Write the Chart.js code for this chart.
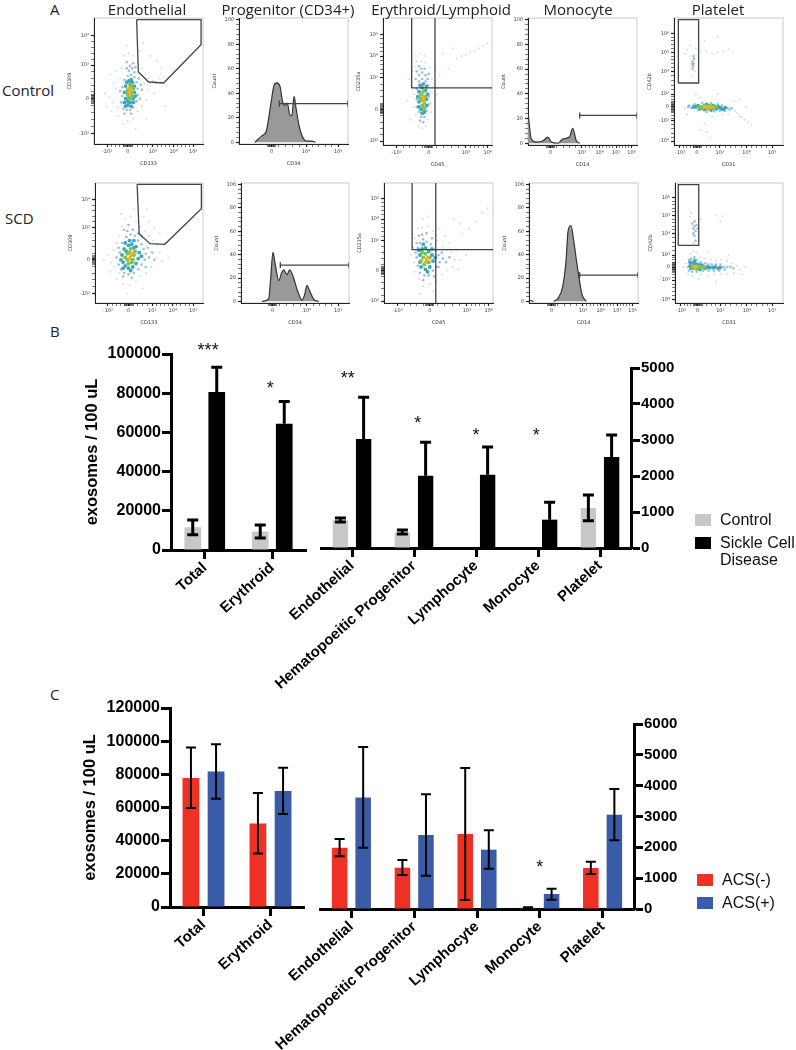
<!DOCTYPE html>
<html>
<head>
<meta charset="utf-8">
<title>Exosomes by cell origin</title>
<script src="https://cdn.jsdelivr.net/npm/chart.js@4/dist/chart.umd.js"></script>
<style>
    html, body { margin: 0; background: #fff; }
    #page { position: relative; width: 796px; height: 1050px; overflow: hidden; }
    #page canvas { position: absolute; }
    #page canvas.flow { filter: blur(0.5px); }
    .note { position: absolute; font-family: "Open Sans", sans-serif; font-size: 15px; color: #222; white-space: nowrap; line-height: 18px; }
    .note.mid { transform: translateX(-50%); }
    .key { position: absolute; font-family: "Liberation Sans", Arial, sans-serif; font-size: 16px; color: #111; line-height: 17px; white-space: nowrap; }
    .swatch { position: absolute; width: 16px; height: 12px; }
</style>
</head>
<body>
<div id="page"></div>
<script>
// panel B
const leftCats = ['Total', 'Erythroid'];
const rightCats = ['Endothelial', 'Hematopoeitic Progenitor', 'Lymphocyte', 'Monocyte', 'Platelet'];

const ctrlLeft = [11600, 9400];
const ctrlLeftLow = [7800, 6100];
const ctrlLeftHigh = [15300, 12800];
const scdLeft = [80600, 64400];
const scdLeftHigh = [93200, 75800];
const ctrlRight = [770, 435, 0, 0, 1111];
const ctrlRightLow = [722, 389, null, null, 760];
const ctrlRightHigh = [833, 500, null, null, 1472];
const scdRight = [3028, 2009, 2037, 787, 2528];
const scdRightHigh = [4185, 2935, 2806, 1268, 3139];
const starsBLeft = ['***', '*'];
const starsBLeftCat = [0.05, 0.97];
const starsBLeftAt = [101700, 81900];
const starsBRight = ['**', '*', '*', '*'];
const starsBRightCat = [-0.07, 1.06, 2, 2.97];
const starsBRightAt = [4680, 3430, 3100, 3100];

// panel C
const acsNegLeft = [77850, 50400];
const acsNegLeftLow = [59700, 32300];
const acsNegLeftHigh = [96200, 68800];
const acsPosLeft = [81700, 70000];
const acsPosLeftLow = [65300, 56100];
const acsPosLeftHigh = [98200, 83900];
const acsNegRight = [1990, 1340, 2432, 40, 1330];
const acsNegRightLow = [1708, 1103, 292, 20, 1135];
const acsNegRightHigh = [2270, 1590, 4573, 60, 1535];
const acsPosRight = [3620, 2400, 1924, 486, 3060];
const acsPosRightLow = [1990, 1080, 1308, 303, 2227];
const acsPosRightHigh = [5254, 3720, 2551, 660, 3892];
const starsCRight = ['*'];
const starsCRightCat = [3];
const starsCRightAt = [1313];

// panel A, flow plots, axis runs 0-100 in display channels
const endoCtrlHot = [[33,42],[33,40],[32,44],[34,43]];
const endoCtrlGreen = [[31,39],[35,41],[32,37],[34,46],[31,43],[36,44],[33,47],[30,41],[35,38],[33,36]];
const endoCtrlTeal = [[29,36],[31,34],[33,33],[36,36],[37,41],[37,46],[35,49],[32,50],[29,46],[28,41],[34,51],[30,49],[36,33],[28,33],[38,38],[31,31],[34,30],[29,30]];
const endoCtrlBlue = [[27,28],[30,27],[33,27],[36,29],[39,34],[40,39],[40,44],[39,49],[37,53],[34,55],[31,54],[28,51],[26,45],[26,38],[25,33],[32,58],[35,60],[30,60],[37,57],[41,52],[43,47],[42,36],[24,42],[28,24],[34,24],[33,62],[36,64],[30,65],[38,61],[44,43]];
const endoCtrlPale = [[10,40],[14,37],[17,33],[20,44],[22,29],[18,48],[24,52],[25,60],[28,70],[32,72],[36,70],[40,67],[44,60],[47,56],[50,52],[54,50],[57,48],[60,52],[46,48],[50,43],[55,40],[48,35],[44,30],[40,26],[36,20],[31,18],[27,16],[22,22],[16,26],[12,30],[42,74],[52,70],[58,66],[62,60],[38,12],[65,30],[48,20],[20,58],[15,55],[30,78],[45,80],[66,46]];

const endoScdHot = [[33,39],[32,37],[34,41]];
const endoScdGreen = [[30,36],[36,40],[32,42],[35,36],[30,41],[34,34],[37,43],[31,33],[28,38],[33,45]];
const endoScdTeal = [[26,34],[28,31],[31,29],[35,30],[38,33],[40,37],[41,42],[38,47],[34,49],[31,48],[27,45],[25,40],[24,36],[29,43],[36,46],[33,27],[43,39],[28,50],[32,52],[36,52],[26,29]];
const endoScdBlue = [[22,32],[23,42],[24,28],[27,25],[31,24],[36,25],[40,28],[43,32],[46,36],[47,41],[45,45],[43,49],[40,52],[37,56],[33,57],[29,55],[25,50],[22,46],[20,38],[30,60],[35,61],[40,58],[49,46],[50,38],[47,30],[26,22],[34,21],[53,42],[31,65],[27,61],[43,56],[55,36]];
const endoScdPale = [[8,36],[12,40],[15,34],[17,44],[18,30],[20,50],[22,25],[22,56],[25,64],[28,70],[33,72],[38,68],[42,64],[46,60],[50,56],[54,52],[58,48],[60,42],[57,38],[62,35],[52,30],[47,25],[42,22],[38,18],[32,15],[26,16],[20,20],[14,26],[45,72],[50,68],[48,78],[55,62],[60,58],[36,78],[40,82],[66,50],[24,74],[68,38],[44,12],[30,8]];

const eryCtrlHot = [[37,37],[37.5,35],[36.5,39]];
const eryCtrlGreen = [[35,40],[38,33],[36,31],[39,38],[35,35],[37,42],[34,37],[38,29]];
const eryCtrlTeal = [[33,42],[36,45],[39,43],[40,36],[33,34],[35,28],[38,26],[40,31],[32,38],[34,47],[37,48],[40,46],[33,30],[36,25],[41,40]];
const eryCtrlBlue = [[31,44],[33,50],[36,52],[39,50],[41,47],[42,38],[42,32],[31,36],[31,30],[33,26],[35,22],[38,22],[40,27],[36,57],[33,55],[39,55],[41,52],[30,52],[35,60],[38,60],[31,58],[42,56],[34,19],[37,18],[33,62]];
const eryCtrlPale = [[27,58],[29,62],[31,66],[35,66],[39,65],[43,61],[45,52],[45,42],[44,33],[44,26],[28,40],[28,30],[30,24],[33,15],[36,13],[39,15],[41,20],[26,46],[24,52],[30,70],[34,72],[38,70],[68,68],[72,70],[76,71],[80,73],[84,74],[88,76],[92,78],[96,80],[60,60],[52,55],[50,40],[22,35],[25,20],[48,62],[55,72],[64,76]];

const eryScdHot = [[39,36],[38,34],[40,38]];
const eryScdGreen = [[36,38],[41,34],[37,32],[42,38],[35,42],[38,41],[34,35]];
const eryScdTeal = [[33,40],[35,45],[38,46],[41,43],[44,40],[45,35],[42,30],[38,28],[34,30],[33,34],[36,49],[40,26],[47,38],[32,44],[44,45]];
const eryScdBlue = [[30,38],[31,46],[33,50],[36,53],[39,51],[43,49],[47,44],[50,40],[51,34],[48,30],[45,27],[41,23],[37,23],[33,25],[31,31],[29,42],[35,57],[32,56],[39,58],[54,37],[53,42],[50,30],[46,22],[36,19],[30,50],[57,34],[60,38],[44,54]];
const eryScdPale = [[27,46],[28,34],[28,54],[31,62],[35,63],[40,64],[45,60],[49,52],[54,47],[58,44],[62,42],[65,36],[63,30],[58,27],[53,24],[48,18],[42,16],[36,14],[32,20],[28,26],[66,44],[70,36],[68,28],[60,50],[56,56],[50,62],[72,58],[78,62],[84,68],[90,75],[95,79],[64,70],[70,66],[40,72],[36,70],[33,8],[45,10],[75,40],[25,40]];

const pltCtrlHot = [[30,30],[31,30],[33,29.5],[28,30],[35,30]];
const pltCtrlGreen = [[25,30],[26,29],[28,31],[31,28.5],[33,31],[36,29],[38,30],[23,30]];
const pltCtrlTeal = [[20,30],[22,31],[24,28.5],[28,28],[34,27.5],[36,31],[39,28.5],[41,30],[43,29],[18,30],[30,32],[45,28],[47,29.5]];
const pltCtrlBlue = [[14,31],[16,29],[19,32],[22,27.5],[30,26],[37,26.5],[42,27],[44,31],[47,27],[49,29],[51,28],[53,29],[26,33],[34,33],[40,32],[13,30],[17,66],[18,64],[17.5,62],[18.5,68],[17,60],[18,70],[16.5,64]];
const pltCtrlPale = [[56,27],[58,25],[60,23],[62,22],[65,20],[68,18],[71,16],[50,24],[45,24],[28,17],[25,12],[30,10],[33,6],[10,72],[12,75],[15,78],[20,76],[25,73],[30,74],[35,72],[40,73],[45,74],[50,75],[54,73],[15,70],[19,58],[17,54],[28,82],[40,85],[60,36],[66,30],[20,40],[40,40],[24,37],[10,29],[12,24],[35,22],[55,34]];

const pltScdHot = [[18,30],[19,30],[20,30.5]];
const pltScdGreen = [[16,31],[17,29],[21,30],[23,30],[25,29.5],[27,30],[20,28.5]];
const pltScdTeal = [[14,31],[15,29],[16,33],[19,33],[22,32],[25,31.5],[28,29],[30,30],[32,29.5],[35,29.5],[37,30],[40,29],[42,29.5],[14,34],[18,35],[23,28]];
const pltScdBlue = [[13,36],[15,37],[18,38],[20,36],[24,34],[28,33],[31,32],[34,32],[38,32],[42,32],[45,30],[48,30],[51,30],[54,29],[26,27],[31,27],[36,27],[41,27],[46,28],[16,26],[20,26],[12,30],[13,27],[18,64],[17,62],[19,60],[16,66],[20,65],[17,58],[18,56],[19,52],[18,68],[21,62]];
const pltScdPale = [[14,41],[17,43],[20,42],[23,38],[28,37],[33,36],[38,35],[43,36],[48,35],[53,33],[57,31],[60,28],[24,24],[30,23],[36,24],[42,24],[48,24],[55,25],[22,20],[16,22],[12,24],[10,33],[8,30],[15,75],[14,72],[24,70],[38,73],[44,72],[42,68],[17,50],[38,18],[62,24],[65,30],[50,40],[30,42]];

const cd34Ctrl = [[14.5,0],[20.6,5],[25,9],[29,30],[32,46],[34.5,48.5],[37.5,46],[40,33],[42,30],[44.3,32],[46.8,22],[48.6,22],[50.5,37.5],[52.3,28],[55,14],[58.5,4],[62,1],[66.8,1],[70,0]];
const cd34Scd = [[19.4,0],[25.6,2],[27.5,20],[29.6,42],[32,30],[35,17.7],[37.5,24],[39.5,27],[42.6,23],[45,27],[48,22],[52,10],[56.5,1],[59,6],[61,13.4],[64,8],[68,1],[72,0]];
const cd14Ctrl = [[0,25],[3,3.5],[7.6,1],[13.8,2],[18.3,5],[21.4,1],[27.5,0],[32,3.5],[38,5],[41,12],[44.3,2],[47.4,0]];
const cd14Scd = [[0,1],[4.3,0],[10,null],[22.6,0],[27,3],[31,13],[34,35],[35.8,60],[38.5,65],[41,52],[44,32],[48.6,6],[52.6,0]];

const gateEndoCtrl = [[39.1,98.7],[98.2,98.7],[98.2,78.8],[63.9,48.4],[50.2,49.2],[40.7,57.1],[39.1,98.7]];
const gateEndoScd = [[39,98.9],[98.5,98.9],[98.5,78.6],[64.6,48.9],[50.8,49.4],[40.9,57.8],[39,98.9]];
const gateEryCtrl = [[26.3,100],[26.3,45],[100,45],[47.7,45],[47.7,100],[47.7,0]];
const gateEryScd = [[25.8,100],[25.8,44.4],[100,44.4],[47.5,44.4],[47.5,100],[47.5,0]];
const gatePltCtrl = [[4,48.8],[4,98.7],[22.6,98.7],[22.6,48.8],[4,48.8]];
const gatePltScd = [[3,48],[3,98.6],[22,98.6],[22,48],[3,48]];
const gateCd34Ctrl = [[37,29],[37,34],[37,31.5],[100,31.5],[100,29],[100,34]];
const gateCd34Scd = [[36.4,28.5],[36.4,33.5],[36.4,31],[100,31],[100,28.5],[100,33.5]];
const gateCd14Ctrl = [[47.4,20],[47.4,25],[47.4,22.5],[100,22.5],[100,20],[100,25]];
const gateCd14Scd = [[46.5,20],[46.5,25],[46.5,22.5],[100,22.5],[100,20],[100,25]];

const countTicks = [0, 20, 40, 60, 80, 100];
const countLabels = ['0', '20', '40', '60', '80', '100'];
const endoXLabels = ['-10³', '0', '10³', '10⁴', '10⁵'];
const endoYLabels = ['-10³', '0', '10³', '10⁴'];
const endoCtrlXTicks = [12, 31, 54, 73, 91];
const endoCtrlYTicks = [8, 36, 62.6, 86];
const endoScdXTicks = [12, 31, 53, 72, 91];
const endoScdYTicks = [8, 36, 63, 86];
const cd34Labels = ['0', '10⁴', '10⁵'];
const cd34CtrlTicks = [29.8, 61.5, 91];
const cd34ScdTicks = [29.3, 61, 90];
const eryXLabels = ['-10³', '0', '10³', '10⁴'];
const eryYLabels = ['-10³', '0', '10³', '10⁴', '10⁵'];
const eryXTicks = [12.5, 42, 76, 96];
const eryCtrlYTicks = [3, 28, 53, 70, 87];
const eryScdYTicks = [1.5, 27, 52, 70, 87];
const cd14Labels = ['0', '10³', '10⁴', '10⁵', '10⁶'];
const cd14Ticks = [20.8, 49.5, 65.7, 81, 95];
const pltXLabels = ['-10³', '0', '10³', '10⁴', '10⁵'];
const pltYLabels = ['-10⁴', '-10³', '0', '10³', '10⁴', '10⁵', '10⁶'];
const pltXTicks = [5.5, 21, 42, 66.5, 90];
const pltYTicks = [3, 19, 30, 40, 58, 73, 88];

const page = document.getElementById('page');
const barFont = 'Liberation Sans, Arial, sans-serif';

function addCanvas(left, top, width, height) {
    const canvas = document.createElement('canvas');
    canvas.width = width;
    canvas.height = height;
    canvas.style.left = left + 'px';
    canvas.style.top = top + 'px';
    canvas.style.width = width + 'px';
    canvas.style.height = height + 'px';
    page.appendChild(canvas);
    return canvas;
}

function addNote(text, left, top, className, fontSize) {
    const el = document.createElement('div');
    el.className = className;
    el.textContent = text;
    el.style.left = left + 'px';
    el.style.top = top + 'px';
    if (fontSize) el.style.fontSize = fontSize + 'px';
    page.appendChild(el);
}

function addSwatch(color, left, top) {
    const el = document.createElement('div');
    el.className = 'swatch';
    el.style.background = color;
    el.style.left = left + 'px';
    el.style.top = top + 'px';
    page.appendChild(el);
}

// error bars and significance stars go through the chart's own scales
const errorBars = {
    id: 'errorBars',
    afterDatasetsDraw(chart) {
        const ctx = chart.ctx;
        const y = chart.scales.y;
        chart.data.datasets.forEach((ds, i) => {
            if (!ds.errHigh) return;
            const meta = chart.getDatasetMeta(i);
            ctx.save();
            ctx.strokeStyle = '#000';
            ctx.lineWidth = ds.errWidth;
            meta.data.forEach((bar, j) => {
                if (ds.errHigh[j] == null) return;
                const low = ds.errLow ? ds.errLow[j] : ds.data[j];
                const yHigh = y.getPixelForValue(ds.errHigh[j]);
                const yLow = y.getPixelForValue(low);
                const cap = ds.errCap;
                ctx.beginPath();
                ctx.moveTo(bar.x, yHigh);
                ctx.lineTo(bar.x, yLow);
                ctx.moveTo(bar.x - cap, yHigh);
                ctx.lineTo(bar.x + cap, yHigh);
                if (ds.errLow) {
                    ctx.moveTo(bar.x - cap, yLow);
                    ctx.lineTo(bar.x + cap, yLow);
                }
                ctx.stroke();
            });
            ctx.restore();
        });
    }
};

function starsPlugin(labels, cats, values) {
    return {
        id: 'stars',
        afterDraw(chart) {
            const ctx = chart.ctx;
            ctx.save();
            ctx.fillStyle = '#111';
            ctx.font = '18px ' + barFont;
            ctx.textAlign = 'center';
            ctx.textBaseline = 'middle';
            labels.forEach((label, i) => {
                ctx.fillText(label, chart.scales.x.getPixelForValue(cats[i]), chart.scales.y.getPixelForValue(values[i]));
            });
            ctx.restore();
        }
    };
}

function barChart(cfg) {
    const canvas = addCanvas(cfg.left, cfg.top, cfg.width, cfg.height);
    const yScale = {
        position: cfg.axisRight ? 'right' : 'left',
        min: 0,
        max: cfg.max,
        border: { display: true, width: 3, color: '#000' },
        grid: { drawOnChartArea: false, tickLength: 9, tickWidth: 3, tickColor: '#000' },
        ticks: {
            stepSize: cfg.step,
            color: '#000',
            padding: 1,
            font: { family: barFont, size: cfg.tickSize, weight: 'bold' },
            callback: value => String(value)
        },
        afterFit(scale) { scale.width = cfg.axisWidth; scale.paddingTop = 0; scale.paddingBottom = 0; }
    };
    if (cfg.title) {
        yScale.title = {
            display: true,
            text: cfg.title,
            color: '#000',
            padding: { top: 3, bottom: 1 },
            font: { family: barFont, size: 16.5, weight: 'bold' }
        };
    }
    new Chart(canvas, {
        type: 'bar',
        data: { labels: cfg.labels, datasets: cfg.datasets },
        options: {
            responsive: false,
            animation: false,
            layout: { padding: cfg.padding },
            plugins: { legend: { display: false }, tooltip: { enabled: false } },
            scales: {
                x: {
                    type: 'category',
                    border: { display: true, width: 3, color: '#000' },
                    grid: { offset: false, drawOnChartArea: false, tickLength: 9, tickWidth: 3, tickColor: '#000' },
                    ticks: {
                        color: '#000',
                        autoSkip: false,
                        minRotation: 42,
                        maxRotation: 42,
                        padding: 0,
                        font: { family: barFont, size: 15, weight: 'bold' }
                    },
                    afterFit(scale) { scale.height = cfg.height - cfg.padding.top - cfg.plotHeight; scale.paddingLeft = 0; scale.paddingRight = 0; }
                },
                y: yScale
            }
        },
        plugins: [errorBars, starsPlugin(cfg.stars, cfg.starsCat, cfg.starsAt)]
    });
}

function barSeries(label, color, data, low, high, cat, bar, errWidth, errCap) {
    return {
        label, data,
        backgroundColor: color,
        categoryPercentage: cat,
        barPercentage: bar,
        errLow: low, errHigh: high, errWidth, errCap
    };
}

// panel B left part
barChart({
    left: 80, top: 340, width: 240, height: 340,
    padding: { left: 0, right: 14, top: 14, bottom: 0 },
    plotHeight: 196, max: 100000, step: 20000, tickSize: 16, axisWidth: 91,
    title: 'exosomes / 100 uL',
    labels: leftCats,
    stars: starsBLeft, starsCat: starsBLeftCat, starsAt: starsBLeftAt,
    datasets: [
        barSeries('Control', '#c8c8c8', ctrlLeft, ctrlLeftLow, ctrlLeftHigh, 0.711, 0.695, 3, 5.5),
        barSeries('Sickle Cell Disease', '#000', scdLeft, null, scdLeftHigh, 0.711, 0.695, 3, 5.5)
    ]
});

// panel B right part
barChart({
    left: 240, top: 360, width: 460, height: 340,
    padding: { left: 81, right: 0, top: 8, bottom: 0 },
    plotHeight: 180, max: 5000, step: 1000, tickSize: 15, axisWidth: 69, axisRight: true,
    labels: rightCats,
    stars: starsBRight, starsCat: starsBRightCat, starsAt: starsBRightAt,
    datasets: [
        barSeries('Control', '#c8c8c8', ctrlRight, ctrlRightLow, ctrlRightHigh, 0.75, 0.66, 3, 5.5),
        barSeries('Sickle Cell Disease', '#000', scdRight, null, scdRightHigh, 0.75, 0.66, 3, 5.5)
    ]
});

// panel C left part
barChart({
    left: 78, top: 698, width: 240, height: 340,
    padding: { left: 0, right: 14, top: 10, bottom: 0 },
    plotHeight: 199, max: 120000, step: 20000, tickSize: 16, axisWidth: 92,
    title: 'exosomes / 100 uL',
    labels: leftCats,
    stars: [], starsCat: [], starsAt: [],
    datasets: [
        barSeries('ACS(-)', '#ee3124', acsNegLeft, acsNegLeftLow, acsNegLeftHigh, 0.75, 0.668, 2, 5),
        barSeries('ACS(+)', '#3a5ba7', acsPosLeft, acsPosLeftLow, acsPosLeftHigh, 0.75, 0.668, 2, 5)
    ]
});

// panel C right part
barChart({
    left: 240, top: 714, width: 460, height: 336,
    padding: { left: 80, right: 0, top: 10, bottom: 0 },
    plotHeight: 185, max: 6000, step: 1000, tickSize: 15, axisWidth: 66, axisRight: true,
    labels: rightCats,
    stars: starsCRight, starsCat: starsCRightCat, starsAt: starsCRightAt,
    datasets: [
        barSeries('ACS(-)', '#ee3124', acsNegRight, acsNegRightLow, acsNegRightHigh, 0.75, 0.66, 2, 5),
        barSeries('ACS(+)', '#3a5ba7', acsPosRight, acsPosRightLow, acsPosRightHigh, 0.75, 0.66, 2, 5)
    ]
});

// flow plot frame, light grey box behind the black axes
const plotBox = {
    id: 'plotBox',
    beforeDraw(chart) {
        const a = chart.chartArea;
        const ctx = chart.ctx;
        ctx.save();
        ctx.strokeStyle = '#dcdcdc';
        ctx.lineWidth = 1.5;
        ctx.strokeRect(a.left, a.top, a.width, a.height);
        ctx.restore();
    }
};

function toXY(rows) {
    return rows.map(r => ({ x: r[0], y: r[1] }));
}

function flowAxis(position, title, labelAt, labels, min, max, hasDenseZero, zeroAt) {
    const boxSize = position === 'bottom' ? 26 : 32;
    return {
        type: 'linear',
        position, min, max,
        title: {
            display: true,
            text: title,
            color: '#333',
            padding: { top: position === 'bottom' ? 3 : 5, bottom: position === 'bottom' ? 3 : 5 },
            font: { family: 'DejaVu Sans', size: 5 }
        },
        border: { display: true, width: 1, color: '#222' },
        grid: {
            drawOnChartArea: false,
            tickLength: 3,
            tickColor: '#222',
            tickWidth: ctx => (ctx.tick && labelAt.includes(ctx.tick.value) ? 1.2 : 0.6)
        },
        ticks: {
            autoSkip: false,
            maxRotation: 0,
            minRotation: 0,
            padding: 2,
            color: '#444',
            font: { family: 'DejaVu Sans', size: 5 },
            callback: value => {
                const i = labelAt.indexOf(value);
                return i >= 0 ? labels[i] : '';
            }
        },
        afterBuildTicks(scale) {
            const out = labelAt.map(v => ({ value: v }));
            for (let i = 0; i + 1 < labelAt.length; i++) {
                const gap = (labelAt[i + 1] - labelAt[i]) / 5;
                for (let k = 1; k < 5; k++) out.push({ value: labelAt[i] + gap * k });
            }
            if (hasDenseZero) {
                for (let k = -5; k <= 5; k++) {
                    if (k) out.push({ value: zeroAt + k * 0.7 });
                }
            }
            out.sort((a, b) => a.value - b.value);
            scale.ticks = out;
        },
        afterFit(scale) {
            if (position === 'bottom') scale.height = boxSize; else scale.width = boxSize;
            scale.paddingLeft = scale.paddingRight = scale.paddingTop = scale.paddingBottom = 0;
        }
    };
}

function flowChart(box, datasets, xAxis, yAxis) {
    const canvas = addCanvas(box[0] - 32, box[1] - 4, box[2] + 38, box[3] + 30);
    canvas.className = 'flow';
    new Chart(canvas, {
        type: 'scatter',
        data: { datasets },
        options: {
            responsive: false,
            animation: false,
            layout: { padding: { left: 0, right: 6, top: 4, bottom: 0 } },
            plugins: { legend: { display: false }, tooltip: { enabled: false } },
            scales: { x: xAxis, y: yAxis }
        },
        plugins: [plotBox]
    });
}

function gateSet(rows) {
    return { data: toXY(rows), showLine: true, pointRadius: 0, borderColor: '#444', borderWidth: 1.3, fill: false };
}

function dotSet(rows, color, radius) {
    return { data: toXY(rows), showLine: false, pointRadius: radius, pointBorderWidth: 0, backgroundColor: color };
}

function densityPlot(box, gate, hot, green, teal, blue, pale, xTitle, xAt, xLabels, yTitle, yAt, yLabels, xZero, yZero) {
    flowChart(box, [
        gateSet(gate),
        dotSet(hot, '#eeb02a', 1.8),
        dotSet(green, '#7cc44a', 2),
        dotSet(teal, '#3aa6c0', 1.9),
        dotSet(blue, 'rgba(95,143,208,0.6)', 1.3),
        dotSet(pale, 'rgba(190,208,238,0.75)', 1)
    ],
    flowAxis('bottom', xTitle, xAt, xLabels, 0, 100, true, xZero),
    flowAxis('left', yTitle, yAt, yLabels, 0, 100, true, yZero));
}

function histogramPlot(box, gate, curve, xTitle, xAt, xLabels, xZero) {
    flowChart(box, [
        gateSet(gate),
        {
            data: toXY(curve),
            showLine: true,
            pointRadius: 0,
            borderColor: '#333',
            borderWidth: 1.2,
            backgroundColor: '#999',
            cubicInterpolationMode: 'monotone',
            fill: { value: 0 }
        }
    ],
    flowAxis('bottom', xTitle, xAt, xLabels, 0, 100, true, xZero),
    flowAxis('left', 'Count', countTicks, countLabels, -1.4, 101.4, false, 0));
}

// top row
densityPlot([94, 18, 109, 126], gateEndoCtrl, endoCtrlHot, endoCtrlGreen, endoCtrlTeal, endoCtrlBlue, endoCtrlPale,
    'CD133', endoCtrlXTicks, endoXLabels, 'CD309', endoCtrlYTicks, endoYLabels, 31, 36);
histogramPlot([239, 18, 109, 126], gateCd34Ctrl, cd34Ctrl, 'CD34', cd34CtrlTicks, cd34Labels, 29.8);
densityPlot([383, 18, 109, 127], gateEryCtrl, eryCtrlHot, eryCtrlGreen, eryCtrlTeal, eryCtrlBlue, eryCtrlPale,
    'CD45', eryXTicks, eryXLabels, 'CD235a', eryCtrlYTicks, eryYLabels, 42, 28);
histogramPlot([528, 18, 109, 127], gateCd14Ctrl, cd14Ctrl, 'CD14', cd14Ticks, cd14Labels, 20.8);
densityPlot([674, 18, 109, 127], gatePltCtrl, pltCtrlHot, pltCtrlGreen, pltCtrlTeal, pltCtrlBlue, pltCtrlPale,
    'CD31', pltXTicks, pltXLabels, 'CD42b', pltYTicks, pltYLabels, 21, 30);

// bottom row
densityPlot([95, 183, 108, 120], gateEndoScd, endoScdHot, endoScdGreen, endoScdTeal, endoScdBlue, endoScdPale,
    'CD133', endoScdXTicks, endoXLabels, 'CD309', endoScdYTicks, endoYLabels, 31, 36);
histogramPlot([241, 183, 108, 120], gateCd34Scd, cd34Scd, 'CD34', cd34ScdTicks, cd34Labels, 29.3);
densityPlot([384, 183, 109, 120], gateEryScd, eryScdHot, eryScdGreen, eryScdTeal, eryScdBlue, eryScdPale,
    'CD45', eryXTicks, eryXLabels, 'CD235a', eryScdYTicks, eryYLabels, 42, 27);
histogramPlot([529, 183, 109, 120], gateCd14Scd, cd14Scd, 'CD14', cd14Ticks, cd14Labels, 20.8);
densityPlot([675, 183, 108, 120], gatePltScd, pltScdHot, pltScdGreen, pltScdTeal, pltScdBlue, pltScdPale,
    'CD31', pltXTicks, pltXLabels, 'CD42b', pltYTicks, pltYLabels, 21, 30);

// text around the panels
addNote('A', 50, 0, 'note');
addNote('B', 50, 322, 'note');
addNote('C', 50, 685, 'note');
addNote('Control', 2, 81, 'note');
addNote('SCD', 5, 209, 'note');
addNote('Endothelial', 147, 0, 'note mid');
addNote('Progenitor (CD34+)', 288, 0, 'note mid');
addNote('Erythroid/Lymphoid', 441, 0, 'note mid');
addNote('Monocyte', 578, 0, 'note mid');
addNote('Platelet', 718, 0, 'note mid');

// legends
addSwatch('#c8c8c8', 695, 514);
addNote('Control', 720, 511, 'key');
addSwatch('#000', 695, 537);
addNote('Sickle Cell', 720, 534, 'key');
addNote('Disease', 720, 551, 'key');
addSwatch('#ee3124', 697, 874);
addNote('ACS(-)', 722, 871, 'key');
addSwatch('#3a5ba7', 697, 897);
addNote('ACS(+)', 722, 894, 'key');
</script>
</body>
</html>
